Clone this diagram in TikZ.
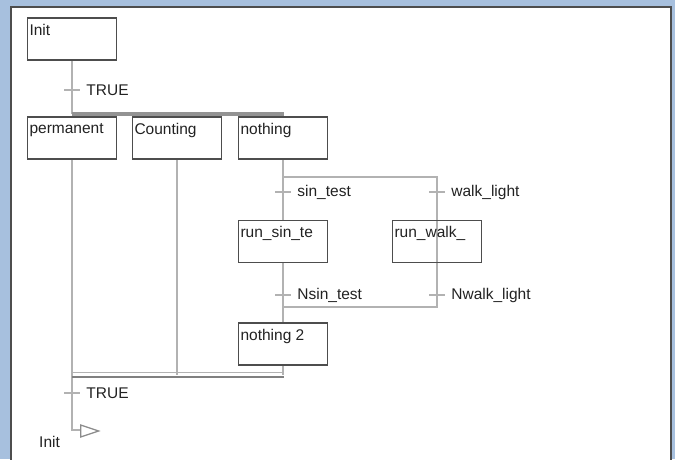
\documentclass[tikz,border=0pt]{standalone}
\usepackage{xcolor}
\usepackage{fontspec}
\setmainfont{Liberation Sans}
\usepackage{tikz}
\usetikzlibrary{shapes.geometric}

\definecolor{panelblue}{HTML}{A7C0DE}
\definecolor{wire}{HTML}{B2B2B2}
\definecolor{frame}{HTML}{4D4D4D}
\definecolor{ink}{HTML}{222222}

\begin{document}
\begin{tikzpicture}[x=1pt, y=-1pt,
  font=\fontsize{15.5}{17}\selectfont, text=ink,
  stepbox/.style={draw=frame, line width=1.3pt, fill=white, minimum width=89pt, minimum height=42pt, inner sep=0pt,
    label={[anchor=north west, inner sep=2.5pt, yshift=-4pt, text=ink]north west:#1}},
  trans/.style={fill=wire, minimum width=16pt, minimum height=1.4pt, inner sep=0pt,
    label={[anchor=west, inner sep=0pt, xshift=6pt]east:#1}},
  wireline/.style={draw=wire, line width=2.6pt},
  bar/.style={draw=#1, line width=4pt}]
  \fill[panelblue] (0,0) rectangle (675,459);
  \useasboundingbox (0,0) rectangle (675,459);
  \filldraw[fill=white, draw=frame, line width=1.5pt] (11,7) rectangle (671,475);

  % connectors
  \coordinate (topL) at (72,113.5);
  \coordinate (topR) at (284,113.5);
  \coordinate (botL) at (72,375);
  \coordinate (botR) at (284,375);
  \coordinate (splitL) at (283,177);
  \coordinate (splitR) at (437,177);
  \coordinate (joinL) at (283,307);
  \coordinate (joinR) at (437,307);
  \coordinate (jump) at (72,430);

  \draw[wireline] (72,39) -- (topL);
  \draw[wireline] (72,138) -- (botL);
  \draw[wireline] (177,138) -- (177,375);
  \draw[wireline] (283,138) -- (283,375);
  \draw[wireline] (splitL) -- (splitR) -- (joinR) -- (joinL);
  \draw[wireline] (botL) -- (jump) -- (80,430);
  \draw[bar=gray!85] (topL) -- (topR);
  \draw[draw=gray!60, line width=1.4pt] (72,372.5) -- (284,372.5);
  \draw[draw=gray, line width=1.8pt] (72,377) -- (284,377);

  % steps
  \node[stepbox=Init] (init) at (72,39) {};
  \node[stepbox=permanent] (permanent) at (72,138) {};
  \node[stepbox=Counting] (counting) at (177,138) {};
  \node[stepbox=nothing] (nothing) at (283,138) {};
  \node[stepbox=run\_sin\_te] (runsin) at (283,241.5) {};
  \node[stepbox=run\_walk\_, fill=none] (runwalk) at (437,241.5) {};
  \node[stepbox=nothing 2] (nothing2) at (283,344) {};

  % transitions
  \node[trans=TRUE] (t1) at (72,90) {};
  \node[trans=sin\_test] (tsin) at (283,192) {};
  \node[trans=walk\_light] (twalk) at (437,192) {};
  \node[trans=Nsin\_test] (tnsin) at (283,295) {};
  \node[trans=Nwalk\_light] (tnwalk) at (437,295) {};
  \node[trans=TRUE] (t2) at (72,393) {};

  % jump
  \node[isosceles triangle, isosceles triangle stretches, draw=gray!90, line width=1.3pt, fill=white,
    minimum height=18pt, minimum width=12pt, inner sep=0pt, anchor=west] (tojump) at (80,431) {};
  \node[anchor=west, inner sep=0pt] (jumplabel) at (39,442) {Init};
\end{tikzpicture}
\end{document}
